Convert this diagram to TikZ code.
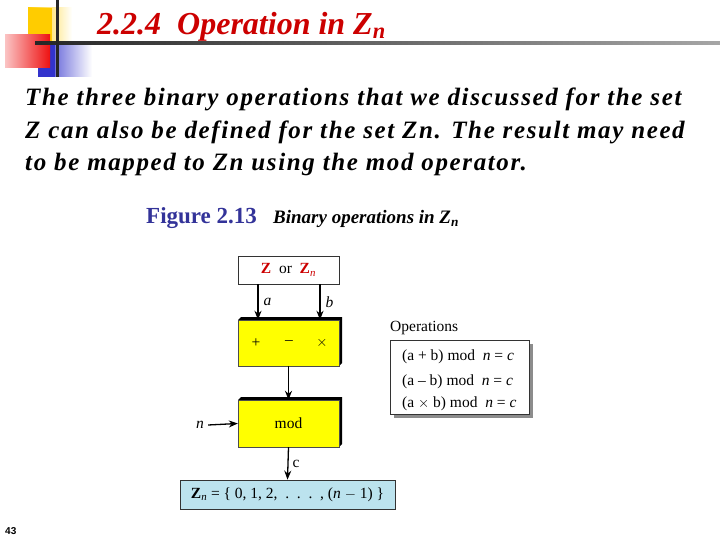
\documentclass[tikz,border=0pt]{standalone}
\usepackage{fontspec}
\setmainfont{Liberation Serif}
\newfontfamily\bodyfont[LetterSpace=6.5]{Liberation Serif}
\newfontfamily\numfont{Liberation Sans}
\usetikzlibrary{arrows.meta,shadings}
\definecolor{titlered}{HTML}{CC0000}
\definecolor{figblue}{HTML}{333399}
\definecolor{boxyellow}{HTML}{FFFF00}
\definecolor{boxblue}{HTML}{BCE3EE}
\definecolor{decoyellow}{HTML}{FFCC00}
\definecolor{decored}{HTML}{EE1111}
\definecolor{decoblue}{HTML}{3333CC}
\tikzset{
  conn/.style={-{Stealth[length=9pt,width=7pt]}, line width=1.3pt},
  plainbox/.style={draw=black!80, line width=0.7pt, minimum width=101pt, minimum height=28pt, inner sep=0pt},
  opbox/.style={fill=boxyellow, draw=black!70, line width=0.4pt, minimum width=101pt, minimum height=46pt, inner sep=0pt},
  lbl/.style={font=\fontsize{15.5}{18}\selectfont, inner sep=0pt},
  bodyline/.style={anchor=base west, inner sep=0pt, font=\bodyfont\bfseries\itshape\fontsize{25}{30}\selectfont}
}
\begin{document}
\begin{tikzpicture}[x=1pt,y=-1pt]
\useasboundingbox (0,0) rectangle (720,540);
\fill[white] (0,0) rectangle (720,540);
% decoration
\shade[left color=decoyellow, right color=white] (28,8) rectangle (72,45);
\fill[decoyellow] (28,8) rectangle (52,45);
\shade[left color=decoblue, right color=white] (38,45) rectangle (92,77);
\fill[decoblue] (38,45) rectangle (55,77);
\shade[left color=decored!25, right color=decored] (5,35) rectangle (50,68);
\shade[left color=black!85, right color=black!35] (35,42) rectangle (720,45);
\fill[black!85] (56,0) rectangle (58.5,77);
% title
\node[anchor=base west, inner sep=0pt, text=titlered, font=\fontsize{32}{34}\selectfont\bfseries\itshape] (title) at (97,35) {2.2.4\ \ Operation in Z\textsubscript{n}};
% body
\node[bodyline] (l1) at (25,106) {The three binary operations that we discussed for the set};
\node[bodyline] (l2) at (25,139) {Z can also be defined for the set Zn. The result may need};
\node[bodyline] (l3) at (25,171) {to be mapped to Zn using the mod operator.};
% caption
\node[anchor=base west, inner sep=0pt, text=figblue, font=\fontsize{23}{25}\selectfont\bfseries] (fig) at (146,224) {Figure 2.13};
\node[anchor=base west, inner sep=0pt, font=\fontsize{19}{21}\selectfont\bfseries\itshape] (figcap) at (273,224) {Binary operations in Z\textsubscript{n}};
% diagram
\node[plainbox, fill=white] (zbox) at (288.5,270) {\fontsize{15.5}{18}\selectfont\textcolor{titlered}{\textbf{Z}}\ \ or\ \ \textcolor{titlered}{\textbf{Z}\textsubscript{\itshape n}}};
% yellow op box with 3D shade
\fill[black] (241,317) -- (342,317) -- (342,363) -- (339,366) -- (339,320) -- (238,320) -- cycle;
\node[opbox] (ops) at (288.5,343) {};
\node[lbl] (plus) at (256,343) {+};
\node[lbl] (minus) at (289,343) {--};
\node[lbl] (times) at (322,343) {$\times$};
\coordinate (a0) at (258,284);
\coordinate (b0) at (320,284);
\draw[conn] (a0) -- (a0 |- ops.north) node[midway, right=5pt, lbl, font=\fontsize{15.5}{18}\selectfont\itshape] {a};
\draw[conn] (b0) -- (b0 |- ops.north) node[midway, right=5pt, lbl, font=\fontsize{15.5}{18}\selectfont\itshape] {b};
% mod box
\fill[black] (241,397) -- (342,397) -- (342,444) -- (339,447) -- (339,400) -- (238,400) -- cycle;
\node[opbox, minimum height=47pt] (mod) at (288.5,423.5) {\fontsize{15.5}{18}\selectfont mod};
\draw[conn] (ops.south) -- (mod.north);
\node[lbl, font=\fontsize{15.5}{18}\selectfont\itshape] (n) at (200,425) {n};
\draw[conn] (n.east) ++(4,0) coordinate (n1) (n1) -- (mod.west);
% Zn box
\node[draw=black!80, line width=0.7pt, fill=boxblue, minimum width=215pt, minimum height=29pt, inner sep=0pt] (zn) at (287.5,494.5) {\fontsize{15.5}{18}\selectfont\textbf{Z}\textsubscript{\itshape n} = \{ 0, 1,\ 2,\ \ .\ \ .\ \ .\ \ , (\textit{n} $-$ 1) \}};
\draw[conn] (mod.south) -- (zn.north) node[midway, right=4pt, lbl] {c};
% operations box
\node[anchor=base west, inner sep=0pt, font=\fontsize{15.5}{18}\selectfont] (optitle) at (390,331) {Operations};
\fill[black!45] (394,344) rectangle (533,418);
\node[draw=black!80, line width=0.8pt, fill=white, minimum width=139pt, minimum height=74pt, inner sep=0pt] (opsbox) at (459.5,377) {};
\node[anchor=base west, lbl] (e1) at (402,360) {(a + b) mod\ \ \textit{n} = \textit{c}};
\node[anchor=base west, lbl] (e2) at (402,385) {(a -- b) mod\ \ \textit{n} = \textit{c}};
\node[anchor=base west, lbl] (e3) at (402,407) {(a $\times$ b) mod\ \ \textit{n} = \textit{c}};
% page number
\node[anchor=base west, inner sep=0pt, font=\numfont\bfseries\fontsize{10}{12}\selectfont] (pg) at (5,534) {43};
\end{tikzpicture}
\end{document}
